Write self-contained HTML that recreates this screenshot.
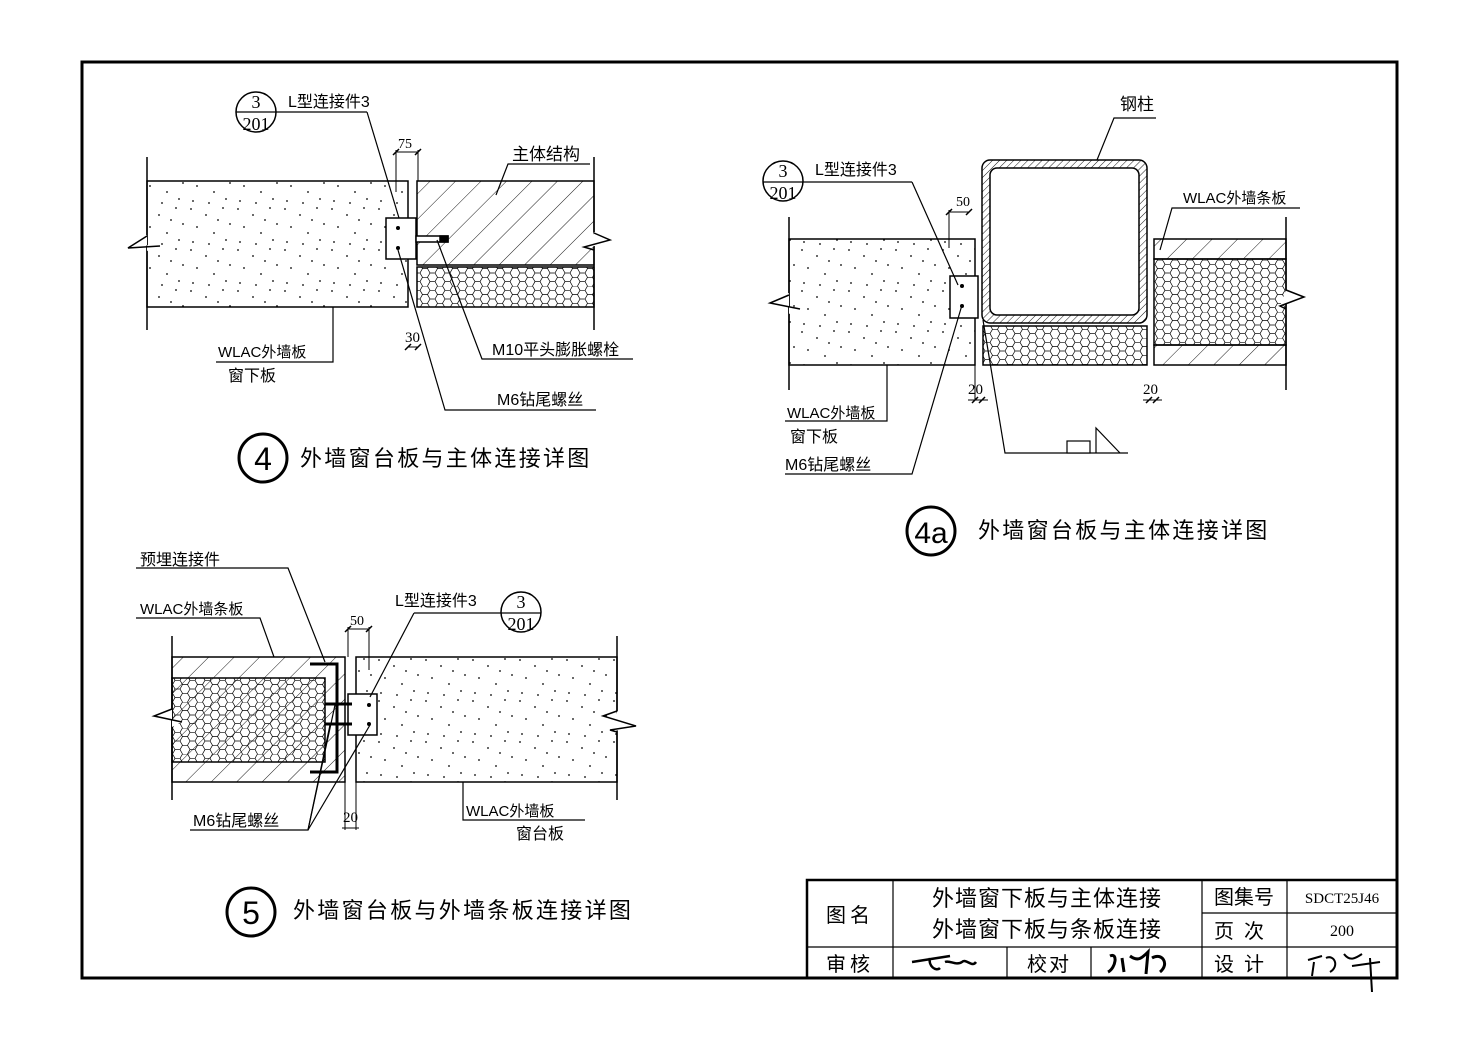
<!DOCTYPE html>
<html><head><meta charset="utf-8"><style>
html,body{margin:0;padding:0;background:#fff;}
svg{display:block;}
text{font-family:"Liberation Sans","Noto Sans CJK SC",sans-serif;fill:#000;}
.s{font-family:"Liberation Serif","Noto Sans CJK SC",serif;}
</style></head><body>
<svg width="1477" height="1039" viewBox="0 0 1477 1039" xmlns="http://www.w3.org/2000/svg">
<defs>
<pattern id="dots" width="47" height="41" patternUnits="userSpaceOnUse">
<g fill="#000">
<circle cx="3" cy="4" r="0.9"/><circle cx="18" cy="10" r="0.9"/><circle cx="35" cy="3" r="0.9"/><circle cx="42" cy="19" r="0.9"/><circle cx="9" cy="22" r="0.9"/><circle cx="26" cy="28" r="0.9"/><circle cx="38" cy="35" r="0.9"/><circle cx="5" cy="37" r="0.9"/><circle cx="21" cy="39" r="0.9"/><circle cx="30" cy="15" r="0.9"/>
</g></pattern>
<pattern id="hatch" width="18" height="18" patternUnits="userSpaceOnUse" patternTransform="rotate(45)">
<line x1="0" y1="0" x2="0" y2="18" stroke="#000" stroke-width="0.9"/></pattern>
<pattern id="hatch2" width="5" height="5" patternUnits="userSpaceOnUse" patternTransform="rotate(45)">
<line x1="0" y1="0" x2="0" y2="5" stroke="#000" stroke-width="0.9"/></pattern>
<pattern id="hex" width="15" height="26" patternUnits="userSpaceOnUse">
<path d="M0,4.3 L2.5,0 L7.5,0 L10,4.3 L7.5,8.6 L2.5,8.6 Z M7.5,8.6 L10,13 L7.5,17.3 L2.5,17.3 L0,13 L2.5,8.6" fill="none" stroke="#000" stroke-width="0.7"/>
<path d="M10,4.3 L15,4.3 M10,13 L15,13 M7.5,17.3 L10,21.6 L7.5,26 M2.5,17.3 L0,21.6 L2.5,26 M0,21.6" fill="none" stroke="#000" stroke-width="0.7"/>
<path d="M10,21.6 L15,21.6" fill="none" stroke="#000" stroke-width="0.7"/>
</pattern>
</defs>
<rect x="82" y="62" width="1315" height="916" fill="none" stroke="#000" stroke-width="3"/>

<!-- ===== Detail 4 ===== -->
<g stroke="#000" stroke-width="1.5" fill="none">
<rect x="147" y="181" width="261" height="126" fill="url(#dots)"/>
<rect x="417" y="181" width="177" height="84" fill="url(#hatch)"/>
<rect x="417" y="267" width="177" height="40" fill="url(#hex)"/>
<line x1="147" y1="157" x2="147" y2="330"/>
<line x1="594" y1="157" x2="594" y2="330"/>
<polyline points="147,235 127,246 160,245 147,251" fill="#fff" stroke="none"/>
<polyline points="147,236 128,248 160,246" />
<polyline points="594,232 614,240 588,248" fill="#fff" stroke="none"/>
<polyline points="594,233 610,240 584,247 594,250"/>
<rect x="386" y="218" width="30" height="41" fill="#fff"/>
<rect x="416" y="236" width="32" height="6" fill="#fff"/>
<rect x="440" y="236" width="8" height="6" fill="#000"/>
<line x1="396" y1="152" x2="418" y2="152" stroke-width="1"/>
<line x1="396" y1="150" x2="396" y2="192" stroke-width="1"/>
<line x1="418" y1="150" x2="418" y2="181" stroke-width="1"/>
<line x1="393" y1="155" x2="399" y2="149" stroke-width="1.5"/>
<line x1="415" y1="155" x2="421" y2="149" stroke-width="1.5"/>
<line x1="408" y1="347" x2="418" y2="347" stroke-width="1"/>
<line x1="405" y1="350" x2="411" y2="344" stroke-width="1.5"/>
<line x1="415" y1="350" x2="421" y2="344" stroke-width="1.5"/>
<circle cx="256" cy="112" r="20"/>
<line x1="236" y1="112" x2="367" y2="112" stroke-width="1.2"/>
<line x1="367" y1="112" x2="399" y2="218" stroke-width="1.2"/>
<polyline points="496,195 508,164 590,164" stroke-width="1.2"/>
<polyline points="333,307 333,362 216,362" stroke-width="1.2"/>
<polyline points="437,240 482,359 633,359" stroke-width="1.2"/>
<polyline points="398,250 445,410 596,410" stroke-width="1.2"/>
<circle cx="263" cy="458" r="24" stroke-width="3"/>
</g>
<g fill="#000"><circle cx="398" cy="228" r="2"/><circle cx="398" cy="248" r="2"/></g>
<text x="256" y="108" font-size="18" text-anchor="middle" class="s">3</text>
<text x="256" y="130" font-size="18" text-anchor="middle" class="s">201</text>
<text x="288" y="107" font-size="16">L型连接件3</text>
<text x="398" y="148" font-size="14" class="s">75</text>
<text x="512" y="160" font-size="17">主体结构</text>
<text x="218" y="357" font-size="15">WLAC外墙板</text>
<text x="228" y="381" font-size="16">窗下板</text>
<text x="405" y="342" font-size="15" class="s">30</text>
<text x="492" y="355" font-size="16">M10平头膨胀螺栓</text>
<text x="497" y="405" font-size="16">M6钻尾螺丝</text>
<text x="263" y="470" font-size="32" text-anchor="middle">4</text>
<text x="300" y="466" font-size="22" letter-spacing="2.3">外墙窗台板与主体连接详图</text>

<!-- ===== Detail 4a ===== -->
<g stroke="#000" stroke-width="1.5" fill="none">
<rect x="789" y="239" width="186" height="126" fill="url(#dots)"/>
<rect x="982" y="160" width="165" height="163" rx="8" fill="url(#hatch2)"/>
<rect x="990" y="168" width="149" height="147" rx="7" fill="#fff"/>
<rect x="983" y="326" width="164" height="39" fill="url(#hex)"/>
<rect x="1154" y="239" width="132" height="20" fill="url(#hatch)"/>
<rect x="1154" y="259" width="132" height="86" fill="url(#hex)"/>
<rect x="1154" y="345" width="132" height="20" fill="url(#hatch)"/>
<line x1="789" y1="217" x2="789" y2="390"/>
<line x1="1286" y1="217" x2="1286" y2="390"/>
<polygon points="789,293 770,302 799,309 789,314" fill="#fff" stroke="none"/>
<polyline points="789,295 770,303 800,309"/>
<polygon points="1286,290 1305,297 1280,306" fill="#fff" stroke="none"/>
<polyline points="1286,290 1304,297 1280,306 1286,309"/>
<rect x="950" y="276" width="28" height="42" fill="#fff"/>
<line x1="949" y1="212" x2="969" y2="212" stroke-width="1"/>
<line x1="949" y1="210" x2="949" y2="248" stroke-width="1"/>
<line x1="946" y1="215" x2="952" y2="209" stroke-width="1.5"/>
<line x1="966" y1="215" x2="972" y2="209" stroke-width="1.5"/>
<line x1="975" y1="365" x2="975" y2="400" stroke-width="1"/>
<line x1="968" y1="400" x2="988" y2="400" stroke-width="1"/>
<line x1="972" y1="403" x2="978" y2="397" stroke-width="1.5"/>
<line x1="979" y1="403" x2="985" y2="397" stroke-width="1.5"/>
<line x1="1143" y1="400" x2="1162" y2="400" stroke-width="1"/>
<line x1="1146" y1="403" x2="1152" y2="397" stroke-width="1.5"/>
<line x1="1153" y1="403" x2="1159" y2="397" stroke-width="1.5"/>
<circle cx="783" cy="181" r="20"/>
<line x1="763" y1="182" x2="912" y2="182" stroke-width="1.2"/>
<line x1="912" y1="182" x2="958" y2="285" stroke-width="1.2"/>
<polyline points="1097,160 1114,118 1156,118" stroke-width="1.2"/>
<polyline points="1160,250 1172,208 1300,208" stroke-width="1.2"/>
<polyline points="887,365 887,421 785,421" stroke-width="1.2"/>
<polyline points="962,305 912,474 785,474" stroke-width="1.2"/>
<polyline points="983,320 1005,453 1128,453" stroke-width="1.2"/>
<rect x="1067" y="441" width="23" height="12" fill="#fff" stroke-width="1.2"/>
<polyline points="1096,453 1096,428 1120,453" stroke-width="1.2"/>
<circle cx="931" cy="531" r="24" stroke-width="3"/>
</g>
<g fill="#000"><circle cx="962" cy="286" r="2"/><circle cx="962" cy="306" r="2"/></g>
<text x="783" y="177" font-size="18" text-anchor="middle" class="s">3</text>
<text x="783" y="199" font-size="18" text-anchor="middle" class="s">201</text>
<text x="815" y="175" font-size="16">L型连接件3</text>
<text x="1120" y="110" font-size="17">钢柱</text>
<text x="956" y="206" font-size="14" class="s">50</text>
<text x="1183" y="203" font-size="15">WLAC外墙条板</text>
<text x="968" y="394" font-size="15" class="s">20</text>
<text x="1143" y="394" font-size="15" class="s">20</text>
<text x="787" y="418" font-size="15">WLAC外墙板</text>
<text x="790" y="442" font-size="16">窗下板</text>
<text x="785" y="470" font-size="16">M6钻尾螺丝</text>
<text x="931" y="543" font-size="30" text-anchor="middle">4a</text>
<text x="978" y="538" font-size="22" letter-spacing="2.3">外墙窗台板与主体连接详图</text>

<!-- ===== Detail 5 ===== -->
<g stroke="#000" stroke-width="1.5" fill="none">
<rect x="172" y="657" width="173" height="125" fill="url(#hatch)"/>
<rect x="172" y="678" width="153" height="84" fill="url(#hex)"/>
<rect x="356" y="657" width="261" height="125" fill="url(#dots)"/>
<line x1="172" y1="636" x2="172" y2="800"/>
<line x1="617" y1="636" x2="617" y2="800"/>
<polygon points="172,709 153,716 182,722 172,727" fill="#fff" stroke="none"/>
<polyline points="172,709 154,716 182,722"/>
<polygon points="617,711 638,726 610,732" fill="#fff" stroke="none"/>
<polyline points="617,711 603,716 636,726 610,730 617,732"/>
<rect x="348" y="694" width="29" height="41" fill="#fff"/>
<polyline points="310,664 337,664 337,772 310,772" stroke-width="3"/>
<line x1="325" y1="704" x2="352" y2="704" stroke-width="3"/>
<line x1="325" y1="724" x2="352" y2="724" stroke-width="3"/>
<line x1="348" y1="629" x2="369" y2="629" stroke-width="1"/>
<line x1="348" y1="627" x2="348" y2="657" stroke-width="1"/>
<line x1="369" y1="627" x2="369" y2="670" stroke-width="1"/>
<line x1="345" y1="632" x2="351" y2="626" stroke-width="1.5"/>
<line x1="366" y1="632" x2="372" y2="626" stroke-width="1.5"/>
<line x1="345" y1="782" x2="345" y2="830" stroke-width="1"/>
<line x1="356" y1="782" x2="356" y2="830" stroke-width="1"/>
<line x1="342" y1="828" x2="359" y2="828" stroke-width="1"/>
<circle cx="521" cy="612" r="20"/>
<line x1="541" y1="613" x2="414" y2="613" stroke-width="1.2"/>
<line x1="414" y1="613" x2="370" y2="697" stroke-width="1.2"/>
<polyline points="136,568 288,568 325,662" stroke-width="1.2"/>
<polyline points="136,618 260,618 274,657" stroke-width="1.2"/>
<polyline points="463,782 463,820 585,820" stroke-width="1.2"/>
<polyline points="190,830 308,830 330,725" stroke-width="1.2"/>
<line x1="308" y1="830" x2="335" y2="705" stroke-width="1.2"/>
<line x1="308" y1="830" x2="370" y2="725" stroke-width="1.2"/>
<circle cx="251" cy="912" r="24" stroke-width="3"/>
</g>
<g fill="#000"><circle cx="369" cy="705" r="2"/><circle cx="369" cy="724" r="2"/></g>
<text x="521" y="608" font-size="18" text-anchor="middle" class="s">3</text>
<text x="521" y="630" font-size="18" text-anchor="middle" class="s">201</text>
<text x="395" y="606" font-size="16">L型连接件3</text>
<text x="140" y="565" font-size="16">预埋连接件</text>
<text x="140" y="614" font-size="15">WLAC外墙条板</text>
<text x="350" y="625" font-size="14" class="s">50</text>
<text x="343" y="822" font-size="15" class="s">20</text>
<text x="193" y="826" font-size="16">M6钻尾螺丝</text>
<text x="466" y="816" font-size="15">WLAC外墙板</text>
<text x="516" y="839" font-size="16">窗台板</text>
<text x="251" y="924" font-size="32" text-anchor="middle">5</text>
<text x="293" y="918" font-size="22" letter-spacing="2.3">外墙窗台板与外墙条板连接详图</text>

<!-- ===== Title block ===== -->
<g stroke="#000" fill="none">
<rect x="807" y="880" width="590" height="98" stroke-width="2.5"/>
<line x1="807" y1="947" x2="1397" y2="947" stroke-width="1.2"/>
<line x1="1202" y1="913" x2="1397" y2="913" stroke-width="1.2"/>
<line x1="893" y1="880" x2="893" y2="978" stroke-width="1.2"/>
<line x1="1202" y1="880" x2="1202" y2="978" stroke-width="1.2"/>
<line x1="1287" y1="880" x2="1287" y2="978" stroke-width="1.2"/>
<line x1="1007" y1="947" x2="1007" y2="978" stroke-width="1.2"/>
<line x1="1091" y1="947" x2="1091" y2="978" stroke-width="1.2"/>
<path d="M912,962 L950,956 M930,958 C928,966 936,972 940,968 M945,962 C950,960 956,966 962,962 C966,958 972,968 976,962" stroke-width="2.5"/>
<path d="M1110,956 C1118,952 1116,968 1108,972 M1122,958 L1124,972 M1130,956 C1138,962 1142,958 1148,952 L1146,974 M1152,958 C1162,952 1170,964 1160,972" stroke-width="3"/>
<path d="M1308,960 L1322,956 M1314,962 L1312,976 M1326,958 C1334,954 1340,966 1330,972 M1344,954 C1350,962 1356,958 1362,954 M1352,966 L1380,962 M1370,958 L1372,992" stroke-width="2"/>
</g>
<text x="850" y="922" font-size="20" text-anchor="middle" letter-spacing="4">图名</text>
<text x="1047" y="906" font-size="22" text-anchor="middle" letter-spacing="1">外墙窗下板与主体连接</text>
<text x="1047" y="937" font-size="22" text-anchor="middle" letter-spacing="1">外墙窗下板与条板连接</text>
<text x="1244" y="904" font-size="20" text-anchor="middle">图集号</text>
<text x="1342" y="903" font-size="15" text-anchor="middle" class="s">SDCT25J46</text>
<text x="1244" y="938" font-size="20" text-anchor="middle" letter-spacing="10">页次</text>
<text x="1342" y="936" font-size="16" text-anchor="middle" class="s">200</text>
<text x="850" y="971" font-size="20" text-anchor="middle" letter-spacing="4">审核</text>
<text x="1049" y="971" font-size="20" text-anchor="middle" letter-spacing="2">校对</text>
<text x="1244" y="971" font-size="20" text-anchor="middle" letter-spacing="10">设计</text>
</svg>
</body></html>
